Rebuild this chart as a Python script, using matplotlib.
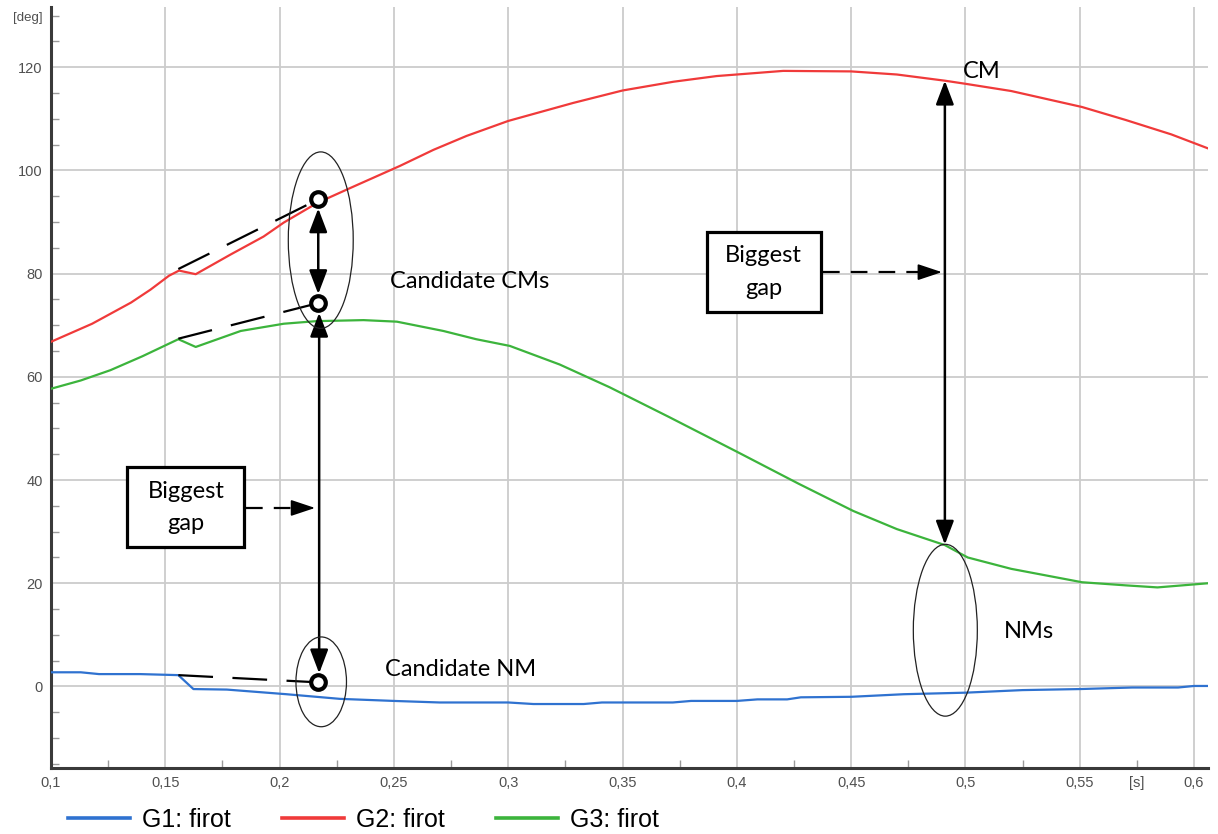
import matplotlib
matplotlib.use("Agg")
import matplotlib.pyplot as plt
from matplotlib.patches import Ellipse, Rectangle
from matplotlib.ticker import MultipleLocator, FuncFormatter

# data (time in s, angle in deg)
g1_t = [0.100, 0.113, 0.121, 0.139, 0.1557, 0.1623, 0.1769, 0.203, 0.2264, 0.250,
        0.270, 0.300, 0.311, 0.333, 0.341, 0.372, 0.380, 0.400, 0.409, 0.422,
        0.428, 0.450, 0.473, 0.500, 0.525, 0.550, 0.573, 0.593, 0.600, 0.606]
g1_deg = [2.75, 2.75, 2.4, 2.4, 2.2, -0.5, -0.6, -1.5, -2.4, -2.8,
          -3.1, -3.1, -3.4, -3.4, -3.1, -3.1, -2.8, -2.8, -2.5, -2.5,
          -2.1, -2.0, -1.5, -1.2, -0.7, -0.5, -0.2, -0.2, 0.1, 0.1]

g2_t = [0.100, 0.118, 0.135, 0.1435, 0.1516, 0.156, 0.1633, 0.1785, 0.193, 0.2018,
        0.2164, 0.2309, 0.2527, 0.2673, 0.2818, 0.300, 0.3285, 0.350, 0.3723, 0.3912,
        0.400, 0.4203, 0.450, 0.470, 0.491, 0.500, 0.520, 0.551, 0.570, 0.590, 0.606]
g2_deg = [66.8, 70.3, 74.4, 76.9, 79.6, 80.6, 79.9, 83.7, 87.2, 89.9,
          93.7, 96.6, 100.9, 104.0, 106.7, 109.6, 113.1, 115.5, 117.2, 118.3,
          118.6, 119.3, 119.2, 118.6, 117.4, 116.8, 115.4, 112.3, 109.8, 107.0, 104.3]

g3_t = [0.100, 0.113, 0.126, 0.140, 0.1557, 0.1633, 0.183, 0.2018, 0.216, 0.2367,
        0.2513, 0.2716, 0.286, 0.3007, 0.3225, 0.3443, 0.370, 0.400, 0.427, 0.451,
        0.470, 0.491, 0.501, 0.520, 0.551, 0.570, 0.584, 0.595, 0.606]
g3_deg = [57.7, 59.3, 61.3, 64.0, 67.3, 65.8, 68.9, 70.3, 70.8, 71.0,
          70.7, 68.9, 67.3, 66.0, 62.4, 58.0, 52.3, 45.5, 39.3, 34.0,
          30.5, 27.4, 25.0, 22.8, 20.2, 19.6, 19.2, 19.6, 20.0]

series = [
    ("G1: firot", g1_t, g1_deg, "#2f72d0"),
    ("G2: firot", g2_t, g2_deg, "#f03a3a"),
    ("G3: firot", g3_t, g3_deg, "#3cb43c"),
]

# annotation anchors
cand_t = 0.2169
cand_cm_upper = 94.4
cand_cm_lower = 74.3
cand_nm = 0.8
jog_t = 0.1557
jog_deg = [80.9, 67.4, 2.2]
cm_t = 0.491
cm_top = 117.4
cm_bottom = 27.5

plt.rcParams["lines.scale_dashes"] = False
note_font = ["Lato", "DejaVu Sans"]

fig = plt.figure(figsize=(12.18, 8.34), dpi=100)
ax = fig.add_axes([51 / 1218, 1 - 767.7 / 834, 1157 / 1218, 761 / 834])

for name, t, deg, col in series:
    ax.plot(t, deg, color=col, lw=1.6, label=name, zorder=3)

ax.set_xlim(0.1, 0.6061)
ax.set_ylim(-15.74, 131.74)

ax.xaxis.set_major_locator(MultipleLocator(0.05))
ax.xaxis.set_minor_locator(MultipleLocator(0.025))
ax.yaxis.set_major_locator(MultipleLocator(20))
ax.yaxis.set_minor_locator(MultipleLocator(5))
ax.xaxis.set_major_formatter(FuncFormatter(lambda v, p: f"{v:g}".replace(".", ",")))
ax.xaxis.set_minor_formatter(FuncFormatter(lambda v, p: "[s]" if abs(v - 0.575) < 1e-6 else ""))

ax.grid(True, which="major", color="#cccccc", lw=1.3, zorder=0)
ax.set_axisbelow(True)
ax.tick_params(which="major", length=0, labelsize=10.5, labelcolor="#505050")
ax.tick_params(axis="x", which="both", pad=6, labelsize=10.5, labelcolor="#505050")
ax.tick_params(axis="y", which="major", pad=6)
ax.tick_params(which="minor", direction="in", length=6, width=1, color="#9a9a9a")
for lab in ax.get_xticklabels() + ax.get_yticklabels() + ax.get_xminorticklabels():
    lab.set_family("Liberation Sans")

for s in ["top", "right"]:
    ax.spines[s].set_visible(False)
for s in ["left", "bottom"]:
    ax.spines[s].set_color("#3a3a3a")
    ax.spines[s].set_linewidth(2.2)

fig.text(43 / 1218, 1 - 18 / 834, "[deg]", ha="right", va="center",
         fontsize=9.5, color="#505050", family="Liberation Sans")

# dashed leader lines from the jumps to the candidate points
for y0, y1 in zip(jog_deg, [cand_cm_upper, cand_cm_lower, cand_nm]):
    ax.plot([jog_t, cand_t], [y0, y1], color="black", lw=1.6,
            dashes=(25, 14), zorder=4)

# candidate circles
ax.plot([cand_t] * 3, [cand_cm_upper, cand_cm_lower, cand_nm], "o", ms=10.5,
        mfc="white", mec="black", mew=3, zorder=6)

head = "<|-|>,head_length=1.45,head_width=0.55"
ax.annotate("", xy=(cand_t, cand_cm_upper), xytext=(cand_t, cand_cm_lower),
            arrowprops=dict(arrowstyle=head, color="black", lw=1.8,
                            shrinkA=6.5, shrinkB=6.5), zorder=5)
ax.annotate("", xy=(cand_t + 0.0004, cand_cm_lower), xytext=(cand_t + 0.0004, cand_nm),
            arrowprops=dict(arrowstyle=head, color="black", lw=1.8,
                            shrinkA=6.5, shrinkB=7), zorder=5)
ax.annotate("", xy=(cm_t, cm_top), xytext=(cm_t, cm_bottom),
            arrowprops=dict(arrowstyle=head, color="black", lw=1.8,
                            shrinkA=0, shrinkB=0), zorder=5)

# ellipses
for cx, cy, w, h in [(0.218, 86.5, 0.0284, 34.2),
                     (0.2182, 0.9, 0.0221, 17.4),
                     (0.4912, 10.9, 0.028, 33.3)]:
    ax.add_patch(Ellipse((cx, cy), w, h, fill=False, ec="#222222", lw=0.9, zorder=5))

# "Biggest gap" boxes with dashed pointers
boxes = [
    # x0, x1, y0, y1, line1 baseline, line2 baseline, arrow y, arrow tip
    (0.1334, 0.1846, 27.1, 42.6, 36.5, 30.3, 34.6, 0.2155),
    (0.3868, 0.4368, 72.6, 88.1, 82.3, 75.9, 80.3, 0.4897),
]
for x0, x1, y0, y1, b1, b2, ay, tip in boxes:
    ax.add_patch(Rectangle((x0, y0), x1 - x0, y1 - y0, fill=True, fc="white",
                           ec="black", lw=2.3, zorder=6))
    xc = (x0 + x1) / 2
    ax.text(xc, b1, "Biggest", ha="center", va="baseline", fontsize=17,
            family=note_font, zorder=7)
    ax.text(xc, b2, "gap", ha="center", va="baseline", fontsize=17,
            family=note_font, zorder=7)
    ax.plot([x1 + 0.0007, tip - 0.008], [ay, ay], color="black", lw=1.6,
            dashes=(12, 8), zorder=5)
    ax.annotate("", xy=(tip, ay), xytext=(tip - 0.0095, ay),
                arrowprops=dict(arrowstyle="-|>,head_length=1.5,head_width=0.5",
                                color="black", lw=1.2, shrinkA=0, shrinkB=0), zorder=5)

# labels
ax.text(0.2483, 77.2, "Candidate CMs", fontsize=17, family=note_font, va="baseline", zorder=7)
ax.text(0.2461, 2.0, "Candidate NM", fontsize=17, family=note_font, va="baseline", zorder=7)
ax.text(0.4990, 117.9, "CM", fontsize=17, family=note_font, va="baseline", zorder=7)
ax.text(0.5169, 9.3, "NMs", fontsize=17, family=note_font, va="baseline", zorder=7)

fig.legend(loc="center left", bbox_to_anchor=(68 / 1218, 1 - 820 / 834), ncol=3,
           frameon=False, handlelength=2.48, handletextpad=0.48,
           columnspacing=2.04, borderpad=0, borderaxespad=0,
           prop={"family": "Liberation Sans", "size": 18})
for line in fig.legends[0].get_lines():
    line.set_linewidth(2.6)

fig.savefig("out.png", dpi=100)
